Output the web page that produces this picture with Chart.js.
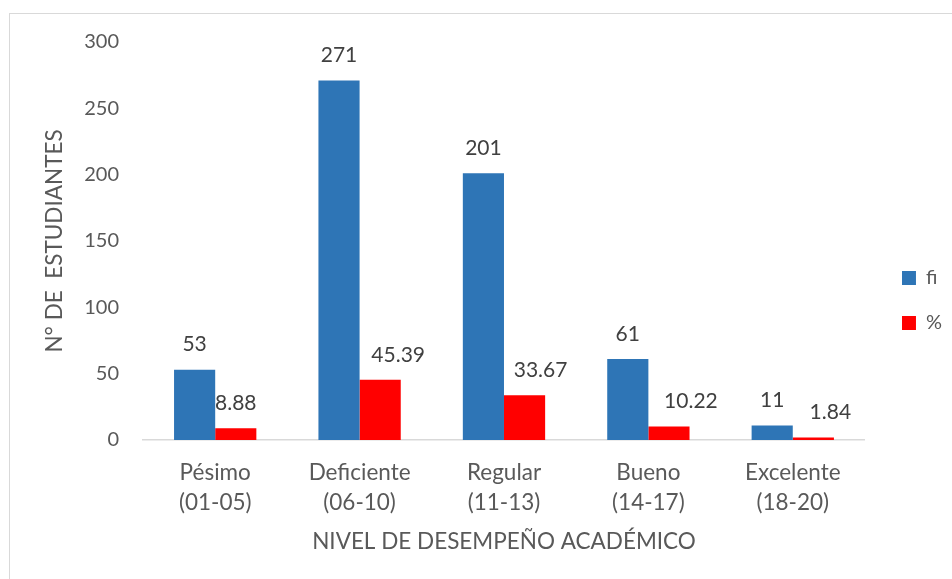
<!DOCTYPE html>
<html>
<head>
<meta charset="utf-8">
<script src="https://cdn.jsdelivr.net/npm/chart.js@4/dist/chart.umd.min.js"></script>
<style>
  body { margin: 0; background: #fff; }
  #frame { position: absolute; left: 9px; top: 13px; width: 960px; height: 600px; border: 1px solid #d9d9d9; }
  #wrap { position: absolute; left: 0; top: 0; width: 942px; height: 565px; }
</style>
</head>
<body>
<div id="frame"><div id="wrap"><canvas id="ItemA"></canvas></div></div>
<script>
var categories = [["Pésimo", "(01-05)"], ["Deficiente", "(06-10)"], ["Regular", "(11-13)"], ["Bueno", "(14-17)"], ["Excelente", "(18-20)"]];
var fiValues = [53, 271, 201, 61, 11];
var pctValues = [8.88, 45.39, 33.67, 10.22, 1.84];
var yTicks = [0, 50, 100, 150, 200, 250, 300];

var FONT = "Lato, 'Open Sans', sans-serif";

var viewport = document.getElementById("ItemA");
var ctx = viewport.getContext("2d");

// labels above each bar, red ones were nudged right in the original
var barLabels = {
    id: 'barLabels',
    afterDatasetsDraw: function(chart) {
        var c = chart.ctx;
        c.save();
        c.font = "21px " + FONT;
        c.fillStyle = "#404040";
        c.textAlign = "center";
        c.textBaseline = "middle";
        chart.data.datasets.forEach(function(ds, i) {
            var meta = chart.getDatasetMeta(i);
            meta.data.forEach(function(bar, j) {
                var dx = ds.labelDx ? ds.labelDx[j] : 0;
                c.fillText(String(ds.data[j]), bar.x + dx, bar.y - 25);
            });
        });
        c.restore();
    }
};

var fiGraph = {
    label: 'fi',
    data: fiValues,
    backgroundColor: '#2E75B6',
    borderWidth: 0
};

var pctGraph = {
    label: '%',
    data: pctValues,
    backgroundColor: '#FF0000',
    borderWidth: 0,
    labelDx: [0, 18, 16, 22, 17]
};

var chartData = {
    type: 'bar',
    data: {
        labels: categories,
        datasets: [fiGraph, pctGraph]
    },
    options: {
        responsive: true,
        maintainAspectRatio: false,
        animation: false,
        layout: { padding: { top: 28, bottom: 20, left: 0, right: 0 } },
        datasets: { bar: { categoryPercentage: 0.57, barPercentage: 1 } },
        plugins: {
            tooltip: { enabled: false },
            legend: {
                position: 'right',
                labels: {
                    boxWidth: 14,
                    boxHeight: 14,
                    padding: 25,
                    color: '#595959',
                    font: { family: FONT, size: 20 }
                }
            }
        },
        scales: {
            x: {
                grid: { display: false, drawTicks: false },
                border: { display: true, color: '#d9d9d9', width: 1.5 },
                ticks: {
                    color: '#595959',
                    padding: 18,
                    font: { family: FONT, size: 22.5, lineHeight: 1.33 }
                },
                title: {
                    display: true,
                    text: 'NIVEL DE DESEMPEÑO ACADÉMICO',
                    color: '#595959',
                    font: { family: FONT, size: 22.5, lineHeight: 1.2 },
                    padding: { top: 0, bottom: 4 }
                },
                afterFit: function(s) { s.height = 119; }
            },
            y: {
                min: 0,
                max: 300,
                afterBuildTicks: function(s) { s.ticks = yTicks.map(function(v) { return { value: v }; }); },
                grid: { display: false, drawTicks: false },
                border: { display: false },
                ticks: {
                    color: '#595959',
                    padding: 24,
                    font: { family: FONT, size: 20 }
                },
                title: {
                    display: true,
                    text: 'N° DE  ESTUDIANTES',
                    color: '#595959',
                    font: { family: FONT, size: 22.5, lineHeight: 1.2 },
                    padding: { top: 31, bottom: 0 }
                },
                // tick padding also pads the top, take that back
                afterFit: function(s) { s.width = 133; s.paddingTop = 12; s.paddingBottom = 12; }
            },
            // empty right scale, only keeps a gap before the legend
            gap: {
                axis: 'y',
                position: 'right',
                display: true,
                grid: { display: false, drawTicks: false },
                border: { display: false },
                ticks: { display: false },
                afterFit: function(s) { s.width = 12; }
            }
        }
    },
    plugins: [barLabels]
};

var myChart = new Chart(ctx, chartData);
</script>
</body>
</html>
